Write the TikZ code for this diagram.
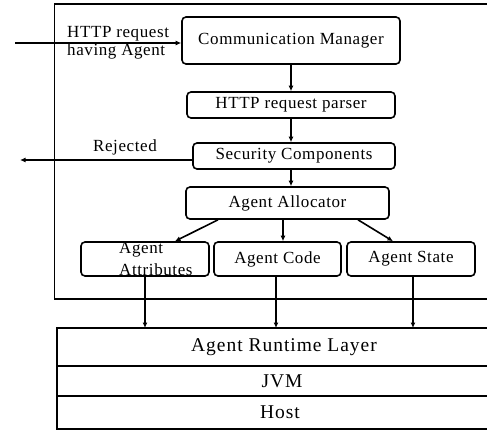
\documentclass[tikz,border=0pt]{standalone}
\usepackage{fontspec}
\setmainfont{Liberation Serif}
\newfontfamily\boxfont[LetterSpace=3.5]{Liberation Serif}
\newfontfamily\layerfont[LetterSpace=5]{Liberation Serif}
\usetikzlibrary{arrows.meta}
\begin{document}
\begin{tikzpicture}[x=1pt,y=-1pt,
  box/.style={draw, rounded corners=4pt, line width=1.6pt, inner sep=0pt,
    font=\boxfont\fontsize{17}{18}\selectfont},
  lbl/.style={inner sep=0pt, font=\boxfont\fontsize{17}{18}\selectfont},
  layerlbl/.style={inner sep=0pt, font=\layerfont\fontsize{19.5}{20}\selectfont},
  conn/.style={line width=1.6pt, -{Latex[length=5.5pt,width=5pt]}},
  frame/.style={line width=1.6pt}]
\useasboundingbox (0,0) rectangle (487,431);

% server frame (open towards the right)
\draw[frame] (487,4) -- (54.5,4) -- (54.5,299) -- (487,299);

% processing chain
\node[box, minimum width=218pt, minimum height=47pt] (cm) at (291,40.5) {Communication Manager};
\node[box, minimum width=208pt, minimum height=26pt] (parser) at (291,105) {HTTP request parser};
\node[box, minimum width=202pt, minimum height=26pt] (sec) at (294,156) {Security Components};
\node[box, minimum width=203pt, minimum height=32pt] (alloc) at (287.5,203) {Agent Allocator};
\node[box, minimum width=128pt, minimum height=34pt] (attr) at (145,259) {};
\node[box, minimum width=127pt, minimum height=34pt] (code) at (277.5,259) {Agent Code};
\node[box, minimum width=128pt, minimum height=34pt] (state) at (411,259) {Agent State};
\node[lbl, align=left, anchor=north west] (attrlbl) at (119,242.5) {Agent\\[4pt]Attributes};

% incoming request and rejection
\coordinate (src) at (15,43);
\coordinate (rej) at (20,160);
\node[lbl, align=left, anchor=west] (reqlbl) at (67,42.5) {HTTP request\\having Agent};
\node[lbl] (rejlbl) at (125,147) {Rejected};
\draw[conn] (src) -- (src -| cm.west);
\draw[conn] (rej -| sec.west) -- (rej);

% chain arrows
\draw[conn] (cm.south) -- (parser.north);
\draw[conn] (parser.south) -- (sec.north -| parser.south);
\draw[conn] (sec.south -| parser.south) -- (alloc.north -| parser.south);
\draw[conn] ([xshift=-69.5pt]alloc.south) -- ([xshift=30pt]attr.north);
\draw[conn] ([xshift=-4.5pt]alloc.south) -- ([xshift=-4.5pt]alloc.south |- code.north);
\draw[conn] ([xshift=70.5pt]alloc.south) -- ([xshift=-18pt]state.north);

% runtime layers
\coordinate (ltop) at (57,328);
\draw[frame] (487,328) -- (57,328) -- (57,429) -- (487,429);
\draw[frame] (57,366) -- (487,366);
\draw[frame] (57,396) -- (487,396);
\node[layerlbl] (runtime) at (284,347) {Agent Runtime Layer};
\node[layerlbl] (jvm) at (282,381.5) {JVM};
\node[layerlbl] (host) at (280,412) {Host};

% into the runtime layer
\draw[conn] (attr.south) -- (attr.south |- ltop);
\draw[conn] ([xshift=-1.5pt]code.south) -- ([xshift=-1.5pt]code.south |- ltop);
\draw[conn] ([xshift=2pt]state.south) -- ([xshift=2pt]state.south |- ltop);
\end{tikzpicture}
\end{document}
